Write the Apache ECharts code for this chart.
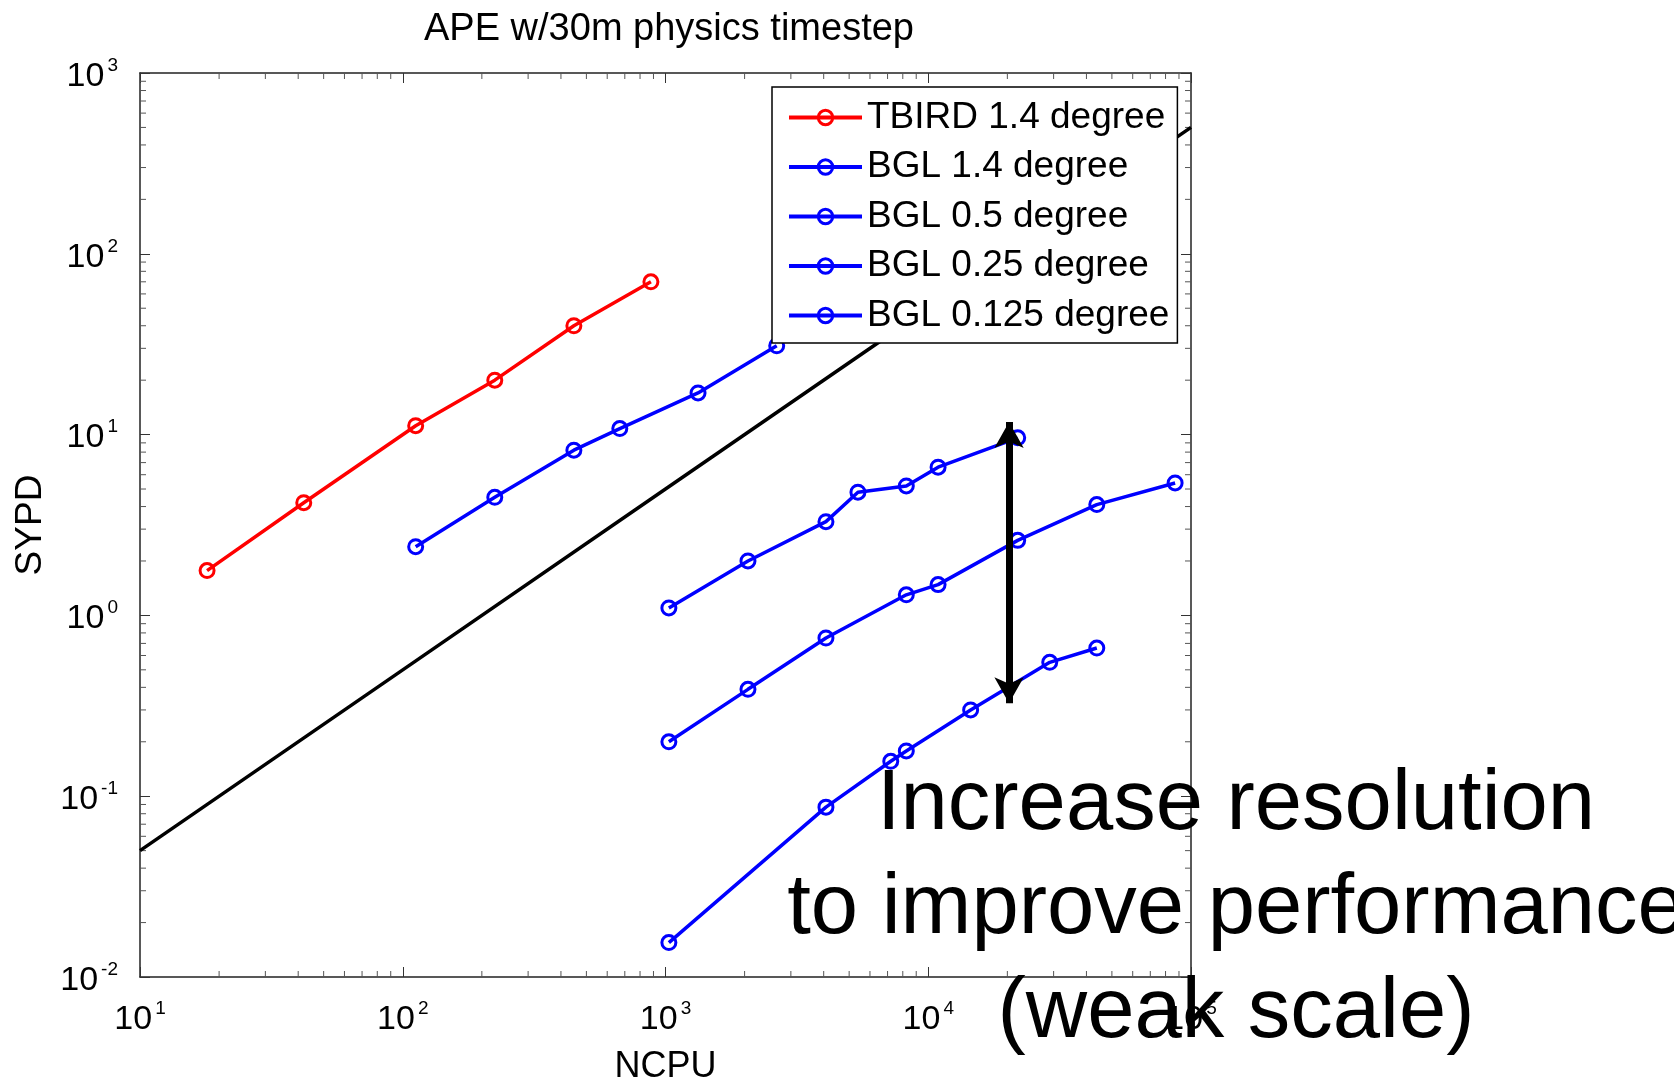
<!DOCTYPE html>
<html><head><meta charset="utf-8">
<script src="https://cdn.jsdelivr.net/npm/echarts@6/dist/echarts.min.js"></script>
<style>html,body{margin:0;padding:0;background:#fff}#c{width:1674px;height:1080px}</style>
</head><body><div id="c"></div>
<script>
// ---- data ----
const chartTitle = 'APE w/30m physics timestep';
const xAxisName = 'NCPU';
const yAxisName = 'SYPD';
const legendNames = ['TBIRD 1.4 degree', 'BGL 1.4 degree', 'BGL 0.5 degree', 'BGL 0.25 degree', 'BGL 0.125 degree'];

const tbird14X = [18, 42, 112, 224, 448, 880];
const tbird14Y = [1.77, 4.2, 11.2, 20, 40, 70];
const bgl14X = [112, 224, 448, 670, 1330, 2650];
const bgl14Y = [2.4, 4.5, 8.2, 10.8, 17, 31];
const bgl05X = [1030, 2060, 4080, 5400, 8250, 10900, 21900];
const bgl05Y = [1.1, 2.0, 3.3, 4.8, 5.2, 6.6, 9.6];
const bgl025X = [1030, 2060, 4080, 8250, 10900, 21900, 43800, 87000];
const bgl025Y = [0.2, 0.39, 0.75, 1.3, 1.48, 2.6, 4.1, 5.4];
const bgl0125X = [1030, 4080, 7200, 8250, 14500, 29000, 43800];
const bgl0125Y = [0.0155, 0.087, 0.156, 0.178, 0.30, 0.55, 0.66];

// ideal scaling reference line
const idealX = [10, 100, 1000, 10000, 100000];
const idealY = [0.05, 0.5, 5, 50, 500];

// annotation arrow (data coordinates) and text
const arrowX = 20300;
const arrowTopY = 11.75;
const arrowBottomY = 0.327;
const annotationLines = ['Increase resolution', 'to improve performance', '(weak scale)'];

// axis ranges / ticks
const xMin = 10, xMax = 100000;
const yMin = 0.01, yMax = 1000;
const xDecades = [1, 2, 3, 4];
const yDecades = [-2, -1, 0, 1, 2];
const minorMultipliers = [2, 3, 4, 5, 6, 7, 8, 9];

// ---- build ----
const FONT = '"Liberation Sans", Arial, Helvetica, sans-serif';
const RED = '#ff0000', BLUE = '#0000ff';
const zip = (a, b) => a.map((v, i) => [v, b[i]]);

const xMinor = [];
xDecades.forEach(d => minorMultipliers.forEach(m => xMinor.push([m * Math.pow(10, d), yMin])));
const yMinor = [];
yDecades.forEach(d => minorMultipliers.forEach(m => yMinor.push([xMin, m * Math.pow(10, d)])));

function dataSeries(name, xs, ys, color) {
  return {
    name, type: 'line', data: zip(xs, ys),
    symbol: 'circle', symbolSize: 14, showSymbol: true,
    lineStyle: { color, width: 3.5 },
    itemStyle: { color: 'rgba(0,0,0,0)', borderColor: color, borderWidth: 3 },
    emphasis: { disabled: true }, z: 3
  };
}

const supLabel = v => {
  const e = Math.round(Math.log10(v));
  return '{b|10}{s|' + e + '}';
};
const labelRich = {
  b: { fontSize: 34, lineHeight: 34, fontFamily: FONT, color: '#000', padding: [7, 0, 0, 0] },
  s: { fontSize: 19, lineHeight: 19, fontFamily: FONT, color: '#000', verticalAlign: 'top', padding: [0, 0, 0, 3] }
};
const axisLineStyle = { color: '#222', width: 1.5 };
const tickStyle = { color: '#333', width: 1 };

const option = {
  animation: false,
  backgroundColor: '#fff',
  textStyle: { fontFamily: FONT },
  title: {
    text: chartTitle, left: 664, top: 6, textAlign: 'center',
    textStyle: { fontSize: 38, fontWeight: 'normal', color: '#000', fontFamily: FONT }
  },
  grid: { left: 140, right: 483, top: 73, bottom: 103, containLabel: false, outerBoundsMode: 'none' },
  legend: {
    data: legendNames, orient: 'vertical', left: 772, top: 87,
    backgroundColor: '#fff', borderColor: '#000', borderWidth: 1.5,
    padding: [12, 8, 9, 15], itemWidth: 73, itemHeight: 18, itemGap: 12.5,
    selectedMode: false,
    lineStyle: { width: 4 },
    itemStyle: { borderWidth: 3 },
    textStyle: { fontSize: 37, color: '#000', fontFamily: FONT },
    z: 10
  },
  xAxis: [{
    type: 'log', logBase: 10, min: xMin, max: xMax, position: 'bottom',
    name: xAxisName, nameLocation: 'middle', nameGap: 72,
    nameTextStyle: { fontSize: 36, color: '#000', fontFamily: FONT },
    axisLine: { show: true, lineStyle: axisLineStyle },
    axisTick: { show: true, inside: true, length: 10, lineStyle: tickStyle },
    axisLabel: { formatter: supLabel, rich: labelRich, margin: 22, showMinLabel: true, showMaxLabel: true },
    splitLine: { show: false }
  }, {
    type: 'log', logBase: 10, min: xMin, max: xMax, position: 'top',
    axisLine: { show: true, lineStyle: axisLineStyle },
    axisTick: { show: true, inside: true, length: 10, lineStyle: tickStyle },
    axisLabel: { show: false }, splitLine: { show: false }
  }],
  yAxis: [{
    type: 'log', logBase: 10, min: yMin, max: yMax, position: 'left',
    name: yAxisName, nameLocation: 'middle', nameGap: 85, nameRotate: 90,
    nameTextStyle: { fontSize: 37, color: '#000', fontFamily: FONT },
    axisLine: { show: true, lineStyle: axisLineStyle },
    axisTick: { show: true, inside: true, length: 10, lineStyle: tickStyle },
    axisLabel: { formatter: supLabel, rich: labelRich, margin: 22, showMinLabel: true, showMaxLabel: true },
    splitLine: { show: false }
  }, {
    type: 'log', logBase: 10, min: yMin, max: yMax, position: 'right',
    axisLine: { show: true, lineStyle: axisLineStyle },
    axisTick: { show: true, inside: true, length: 10, lineStyle: tickStyle },
    axisLabel: { show: false }, splitLine: { show: false }
  }],
  series: [
    {
      name: 'ideal', type: 'line', data: zip(idealX, idealY),
      symbol: 'none', lineStyle: { color: '#000', width: 3.5 }, z: 2,
      emphasis: { disabled: true },
      markLine: {
        silent: true, symbol: ['arrow', 'arrow'], symbolSize: [22, 26],
        lineStyle: { color: '#000', width: 7, type: 'solid' },
        itemStyle: { color: '#000' },
        label: { show: false }, emphasis: { disabled: true },
        data: [[{ coord: [arrowX, arrowTopY] }, { coord: [arrowX, arrowBottomY] }]]
      }
    },
    dataSeries(legendNames[0], tbird14X, tbird14Y, RED),
    dataSeries(legendNames[1], bgl14X, bgl14Y, BLUE),
    dataSeries(legendNames[2], bgl05X, bgl05Y, BLUE),
    dataSeries(legendNames[3], bgl025X, bgl025Y, BLUE),
    dataSeries(legendNames[4], bgl0125X, bgl0125Y, BLUE),
    {
      name: 'xminor', type: 'custom', silent: true, clip: false, data: xMinor,
      renderItem: (params, api) => {
        const x = api.value(0);
        const pb = api.coord([x, yMin]);
        const pt = api.coord([x, yMax]);
        return { type: 'group', children: [
          { type: 'line', shape: { x1: pb[0], y1: pb[1], x2: pb[0], y2: pb[1] - 6 }, style: { stroke: '#555', lineWidth: 1 } },
          { type: 'line', shape: { x1: pt[0], y1: pt[1], x2: pt[0], y2: pt[1] + 6 }, style: { stroke: '#555', lineWidth: 1 } }
        ]};
      }
    },
    {
      name: 'yminor', type: 'custom', silent: true, clip: false, data: yMinor,
      renderItem: (params, api) => {
        const y = api.value(1);
        const pl = api.coord([xMin, y]);
        const pr = api.coord([xMax, y]);
        return { type: 'group', children: [
          { type: 'line', shape: { x1: pl[0], y1: pl[1], x2: pl[0] + 6, y2: pl[1] }, style: { stroke: '#555', lineWidth: 1 } },
          { type: 'line', shape: { x1: pr[0], y1: pr[1], x2: pr[0] - 6, y2: pr[1] }, style: { stroke: '#555', lineWidth: 1 } }
        ]};
      }
    }
  ],
  graphic: [{
    type: 'text', z: 100, x: 1236, y: 754, silent: true,
    style: {
      text: annotationLines.join('\n'),
      fontSize: 85, fontFamily: FONT, fill: '#000',
      align: 'center', verticalAlign: 'top', lineHeight: 104
    }
  }]
};

const chart = echarts.init(document.getElementById('c'), null, { renderer: 'canvas' });
chart.setOption(option);
</script>
</body></html>
